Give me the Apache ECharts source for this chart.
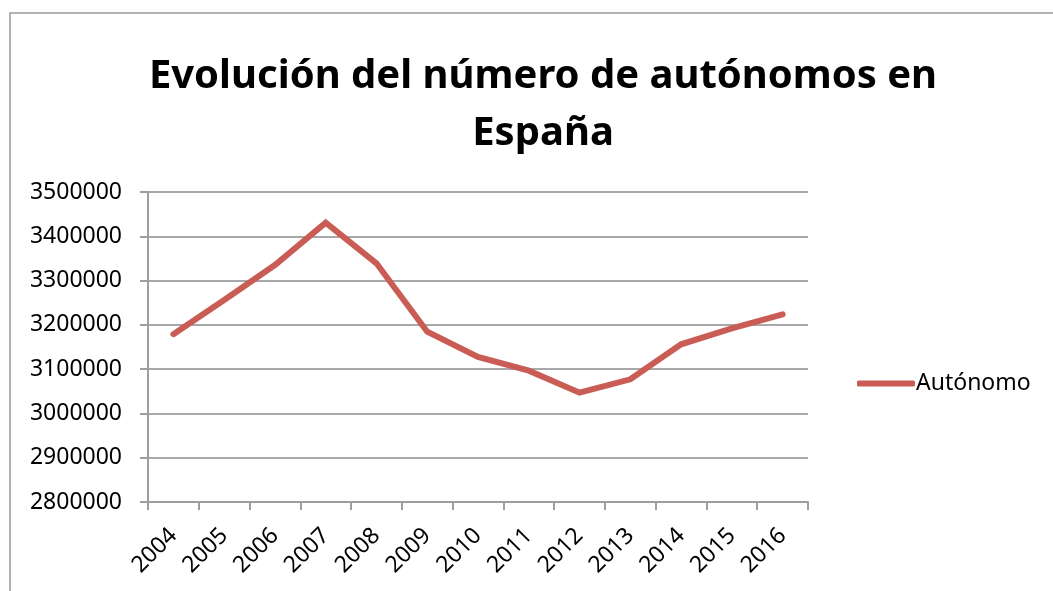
<!DOCTYPE html>
<html>
<head>
<meta charset="utf-8">
<script src="https://cdn.jsdelivr.net/npm/echarts@6/dist/echarts.min.js"></script>
<style>
html,body{margin:0;padding:0;background:#fff;}
#chart{width:1053px;height:591px;}
</style>
</head>
<body>
<div id="chart"></div>
<script>
// datos
const years = ['2004','2005','2006','2007','2008','2009','2010','2011','2012','2013','2014','2015','2016'];
const autonomos = [3179000, 3256000, 3335000, 3430700, 3339000, 3184600, 3127400, 3096500, 3046800, 3077000, 3156000, 3192000, 3223800];
const seriesName = 'Autónomo';
const titleText = 'Evolución del número de autónomos en\nEspaña';

const chart = echarts.init(document.getElementById('chart'));
const font = '"Noto Sans", "Open Sans", sans-serif';
const lineColor = '#c95d55';

const option = {
    backgroundColor: '#fff',
    animation: false,
    graphic: [{
        type: 'rect',
        shape: { x: 10, y: 13, width: 1200, height: 800 },
        style: { fill: 'none', stroke: '#9a9a9a', lineWidth: 1.5 },
        silent: true
    }],
    title: {
        text: titleText,
        left: 538,
        textAlign: 'center',
        top: 43,
        textStyle: {
            fontFamily: font,
            fontWeight: 'bold',
            fontSize: 40,
            lineHeight: 57,
            color: '#000'
        }
    },
    legend: {
        data: [seriesName],
        left: 852,
        top: 367,
        icon: 'roundRect',
        itemWidth: 58,
        itemHeight: 6,
        itemGap: 4,
        textStyle: { fontFamily: font, fontSize: 23, color: '#000', padding: [0, 0, 0, -4] }
    },
    grid: {
        left: 148,
        right: 245,
        top: 192,
        bottom: 89,
        containLabel: false
    },
    xAxis: {
        type: 'category',
        data: years,
        boundaryGap: true,
        axisLine: { lineStyle: { color: '#9e9e9e', width: 2 } },
        axisTick: { show: true, length: 8, interval: 0, lineStyle: { color: '#9e9e9e', width: 2 } },
        axisLabel: {
            interval: 0,
            rotate: 45,
            margin: 30,
            fontFamily: font,
            fontSize: 23,
            color: '#000'
        }
    },
    yAxis: {
        type: 'value',
        min: 2800000,
        max: 3500000,
        interval: 100000,
        axisLine: { show: true, lineStyle: { color: '#9e9e9e', width: 2 } },
        axisTick: { show: true, length: 8, lineStyle: { color: '#9e9e9e', width: 2 } },
        axisLabel: {
            margin: 26,
            fontFamily: font,
            fontSize: 23,
            color: '#000',
            formatter: (v) => String(v)
        },
        splitLine: { show: true, lineStyle: { color: '#a8a8a8', width: 2 } }
    },
    series: [{
        name: seriesName,
        type: 'line',
        data: autonomos,
        symbol: 'none',
        itemStyle: { color: lineColor },
        lineStyle: { color: lineColor, width: 6, cap: 'round', join: 'miter' }
    }]
};

chart.setOption(option);
</script>
</body>
</html>
